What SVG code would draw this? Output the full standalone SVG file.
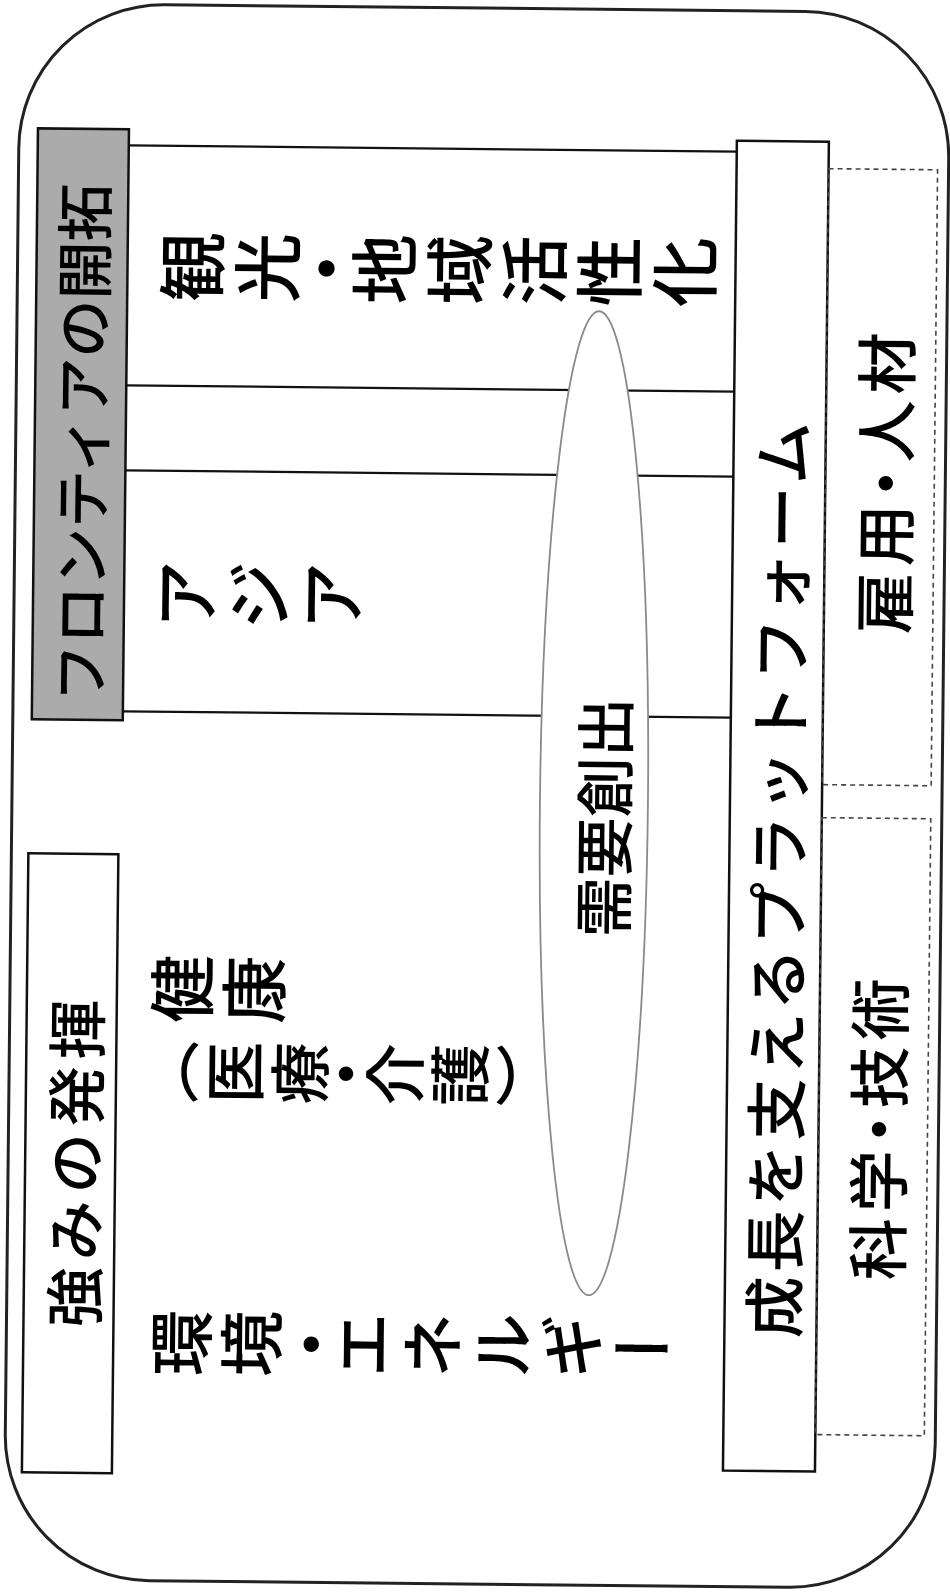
<svg xmlns="http://www.w3.org/2000/svg" width="950" height="1592" viewBox="0 0 950 1592">
<defs>
<style>
text{font-family:"Noto Sans CJK JP","Noto Sans CJK SC",sans-serif;fill:#000;font-weight:500}
.h{text-anchor:middle;dominant-baseline:central}
.v{writing-mode:vertical-rl;text-anchor:start}
.box{fill:#fff;stroke:#111;stroke-width:2.5}
.gray{fill:#ababab;stroke:#111;stroke-width:2.5}
.dash{fill:none;stroke:#444;stroke-width:1.6;stroke-dasharray:5 4}
.sep{stroke:#111;stroke-width:2.2}
.oval{fill:#fff;stroke:#8a8a8a;stroke-width:1.8}
</style>
</defs>
<rect width="950" height="1592" fill="#fff"/>
<g transform="rotate(0.6 475 796)">
  <g id="frame">
    <rect x="12" y="8" width="930" height="1576" rx="145" ry="145" fill="none" stroke="#222" stroke-width="3"/>
  </g>
  <g id="connectors">
    <line class="sep" x1="122" y1="149" x2="730" y2="149"/>
    <line class="sep" x1="122" y1="389" x2="730" y2="389"/>
    <line class="sep" x1="122" y1="474" x2="730" y2="474"/>
    <line class="sep" x1="122" y1="715" x2="730" y2="715"/>
  </g>
  <g id="frontier">
    <rect class="gray" x="31" y="133" width="91" height="591"/>
    <text class="h" transform="translate(76,447) rotate(-90)" font-size="58">フロンティアの開拓</text>
  </g>
  <g id="strength">
    <rect class="box" x="29" y="858" width="90" height="619"/>
    <text class="h" transform="translate(76,1164) rotate(-90)" font-size="60" letter-spacing="7">強みの発揮</text>
  </g>
  <g id="tourism">
    <text class="v" transform="translate(152,270) rotate(-90)" font-size="70" letter-spacing="5">観光<tspan dy="-16">・</tspan><tspan dy="-17">地域活性化</tspan></text>
  </g>
  <g id="asia">
    <text class="v" transform="translate(149,598) rotate(-90)" font-size="70" letter-spacing="3">アジア</text>
  </g>
  <g id="health">
    <text class="v" transform="translate(150,992) rotate(-90)" font-size="68" letter-spacing="4">健康</text>
    <text class="v" transform="translate(142,1075) rotate(-90)" font-size="62" letter-spacing="3">（医療<tspan dy="-19">・</tspan><tspan dy="-16">介護）</tspan></text>
  </g>
  <g id="environment">
    <text class="v" transform="translate(154,1346) rotate(-90)" font-size="66" letter-spacing="4">環境<tspan dy="-10">・</tspan><tspan dy="-19">エネルギー</tspan></text>
  </g>
  <g id="demand">
    <ellipse class="oval" cx="594" cy="802" rx="54" ry="492"/>
    <text class="h" transform="translate(601,816) rotate(-90)" font-size="60">需要創出</text>
  </g>
  <g id="platform">
    <rect class="box" x="730" y="138" width="92" height="1330"/>
    <text class="h" transform="translate(776,875) rotate(-90)" font-size="62" letter-spacing="4">成長を支えるプラットフォーム</text>
  </g>
  <g id="employment">
    <rect class="dash" x="822" y="165" width="109" height="616"/>
    <text class="h" transform="translate(879,476) rotate(-90)" font-size="62" letter-spacing="6">雇用<tspan dx="-16">・</tspan><tspan dx="-16">人材</tspan></text>
  </g>
  <g id="science">
    <rect class="dash" x="822" y="814" width="109" height="617"/>
    <text class="h" transform="translate(879,1122) rotate(-90)" font-size="62" letter-spacing="6">科学<tspan dx="-16">・</tspan><tspan dx="-16">技術</tspan></text>
  </g>
</g>
</svg>
